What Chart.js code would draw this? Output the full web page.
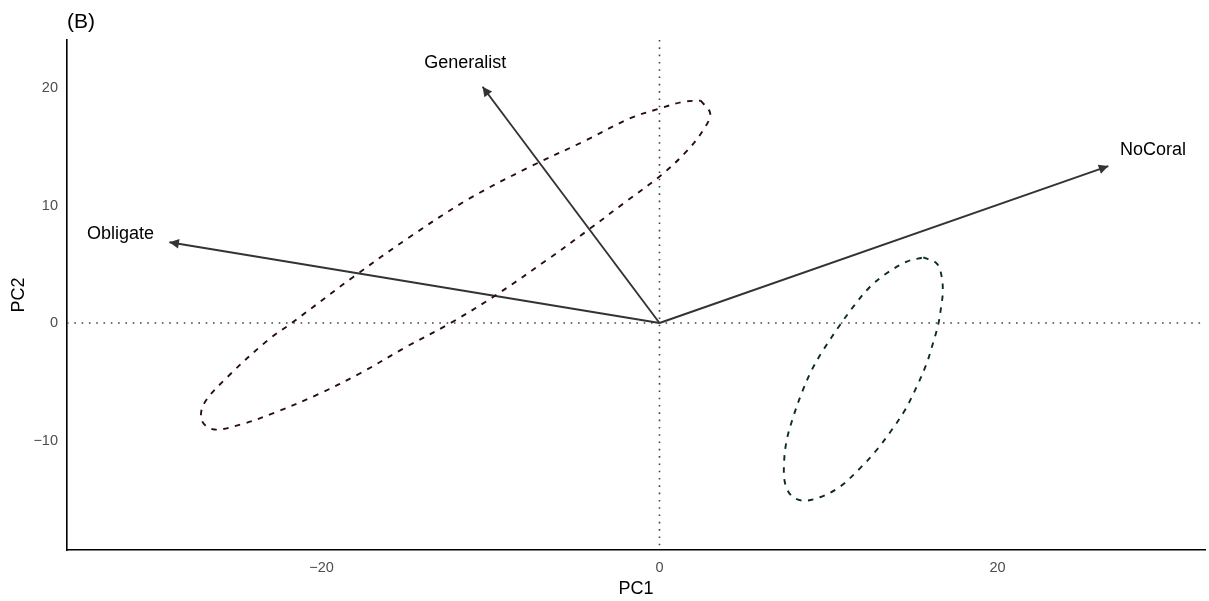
<!DOCTYPE html>
<html><head><meta charset="utf-8">
<script src="https://cdn.jsdelivr.net/npm/chart.js@4.4.0/dist/chart.umd.min.js"></script>
<style>html,body{margin:0;padding:0;background:#fff;overflow:hidden;}</style>
</head><body>
<canvas id="c" width="1209" height="601"></canvas>
<script>
// ---- data ----
const loadingNames = ["Generalist", "Obligate", "NoCoral"];
const loadingX = [-10.47, -29.0, 26.56];
const loadingY = [20.11, 6.87, 13.36];
const labelX = [-11.5, -31.9, 29.2];
const labelY = [22.1, 7.56, 14.7];

const ellipseAX = [2.44, 3.00, 2.64, 1.64, 0.04, -1.96, -4.36, -6.56, -9.76, -12.36, -14.96, -17.76, -20.16, -22.76, -24.76, -26.37, -27.07, -26.97, -25.57, -23.16, -21.76, -18.16, -14.76, -11.36, -7.76, -4.36, -1.76, 0.04, 1.44, 2.44];
const ellipseAY = [18.93, 17.84, 16.54, 14.67, 12.51, 10.36, 7.77, 5.47, 2.30, 0.00, -2.01, -4.32, -6.04, -7.62, -8.63, -9.06, -8.34, -6.90, -4.60, -1.44, 0.00, 3.88, 7.34, 10.50, 13.23, 15.54, 17.41, 18.27, 18.84, 18.93];

const ellipseBX = [15.61, 16.40, 16.70, 16.76, 16.64, 16.50, 16.24, 15.81, 15.22, 14.53, 13.74, 12.85, 11.86, 10.68, 9.50, 8.51, 7.82, 7.43, 7.37, 7.53, 7.92, 8.41, 9.01, 9.69, 10.68, 11.47, 12.46, 13.44, 14.63, 15.61];
const ellipseBY = [5.59, 5.08, 3.94, 2.53, 1.11, -0.09, -1.45, -3.43, -5.42, -7.40, -9.11, -10.81, -12.37, -13.93, -14.83, -15.12, -14.72, -13.64, -11.94, -9.96, -7.97, -5.98, -4.00, -2.30, -0.17, 1.39, 3.09, 4.23, 5.22, 5.59];

const xTicks = [-20, 0, 20];
const yTicks = [-10, 0, 10, 20];
const xRange = [-35.06, 32.28];
const yRange = [-19.32, 24.09];

// ---- build ----
const FONT = "'Liberation Sans', Arial, Helvetica, sans-serif";
const fmt = v => v < 0 ? '\u2212' + Math.abs(v) : String(v);
const pts = (xs, ys) => xs.map((x, i) => ({x: x, y: ys[i]}));

const datasets = [
  {label: 'ellA', data: pts(ellipseAX, ellipseAY), showLine: true, borderColor: '#2a0d14', borderWidth: 1.9,
   borderDash: [5.5, 6.5], pointRadius: 0, tension: 0.35, fill: false},
  {label: 'ellB', data: pts(ellipseBX, ellipseBY), showLine: true, borderColor: '#0b2a28', borderWidth: 1.9,
   borderDash: [5.5, 6.5], pointRadius: 0, tension: 0.35, fill: false}
];
loadingNames.forEach((n, i) => {
  datasets.push({label: n, isArrow: true, data: [{x: 0, y: 0}, {x: loadingX[i], y: loadingY[i]}],
    showLine: true, borderColor: '#333333', borderWidth: 1.9, pointRadius: 0, tension: 0, fill: false});
});

const refLines = {
  id: 'refLines',
  beforeDatasetsDraw(chart) {
    const {ctx, chartArea: a, scales: {x, y}} = chart;
    ctx.save();
    ctx.strokeStyle = '#444444';
    ctx.lineWidth = 1.6;
    ctx.setLineDash([1.6, 5.7]);
    const px = x.getPixelForValue(0), py = y.getPixelForValue(0);
    ctx.beginPath(); ctx.moveTo(px, a.top); ctx.lineTo(px, a.bottom); ctx.stroke();
    ctx.beginPath(); ctx.moveTo(a.left, py); ctx.lineTo(a.right, py); ctx.stroke();
    ctx.restore();
  }
};

const arrowHeads = {
  id: 'arrowHeads',
  afterDatasetsDraw(chart) {
    const ctx = chart.ctx;
    ctx.save();
    chart.data.datasets.forEach((ds, i) => {
      if (!ds.isArrow) return;
      const m = chart.getDatasetMeta(i).data;
      const p0 = m[0], p1 = m[1];
      const ang = Math.atan2(p1.y - p0.y, p1.x - p0.x);
      const L = 9.5, W = 4.8;
      ctx.fillStyle = '#333333';
      ctx.beginPath();
      ctx.moveTo(p1.x, p1.y);
      ctx.lineTo(p1.x - L * Math.cos(ang) - W * Math.sin(ang), p1.y - L * Math.sin(ang) + W * Math.cos(ang));
      ctx.lineTo(p1.x - L * Math.cos(ang) + W * Math.sin(ang), p1.y - L * Math.sin(ang) - W * Math.cos(ang));
      ctx.closePath();
      ctx.fill();
    });
    // labels
    const {x, y} = chart.scales;
    ctx.fillStyle = '#000000';
    ctx.font = '18px ' + FONT;
    ctx.textAlign = 'center';
    ctx.textBaseline = 'middle';
    loadingNames.forEach((n, i) => {
      ctx.fillText(n, x.getPixelForValue(labelX[i]), y.getPixelForValue(labelY[i]));
    });
    ctx.restore();
  }
};

const titles = {
  id: 'titles',
  afterDraw(chart) {
    const {ctx, chartArea: a} = chart;
    ctx.save();
    ctx.fillStyle = '#000000';
    ctx.textBaseline = 'middle';
    ctx.font = '21px ' + FONT;
    ctx.textAlign = 'left';
    ctx.fillText('(B)', 67, 22);
    ctx.font = '18px ' + FONT;
    ctx.textAlign = 'center';
    ctx.fillText('PC1', (a.left + a.right) / 2, 589);
    ctx.translate(19, (a.top + a.bottom) / 2);
    ctx.rotate(-Math.PI / 2);
    ctx.fillText('PC2', 0, 0);
    ctx.restore();
  }
};

new Chart(document.getElementById('c'), {
  type: 'scatter',
  data: {datasets: datasets},
  options: {
    responsive: false,
    animation: false,
    devicePixelRatio: 1,
    layout: {padding: {top: 40, right: 4, left: 0, bottom: 0}},
    plugins: {legend: {display: false}, tooltip: {enabled: false}, title: {display: false}},
    scales: {
      x: {
        type: 'linear', min: xRange[0], max: xRange[1],
        grid: {display: false, drawTicks: false, tickLength: 0},
        border: {display: true, color: '#000000', width: 1.6},
        ticks: {color: '#4d4d4d', font: {size: 14.5, family: FONT}, padding: 9, callback: v => fmt(v)},
        afterBuildTicks: s => { s.ticks = xTicks.map(v => ({value: v})); },
        afterFit: s => { s.height = 51; }
      },
      y: {
        type: 'linear', min: yRange[0], max: yRange[1],
        grid: {display: false, drawTicks: false, tickLength: 0},
        border: {display: true, color: '#000000', width: 1.6},
        ticks: {color: '#4d4d4d', font: {size: 14.5, family: FONT}, padding: 9, callback: v => fmt(v)},
        afterBuildTicks: s => { s.ticks = yTicks.map(v => ({value: v})); },
        afterFit: s => { s.width = 67; }
      }
    }
  },
  plugins: [refLines, arrowHeads, titles]
});
</script>
</body></html>
